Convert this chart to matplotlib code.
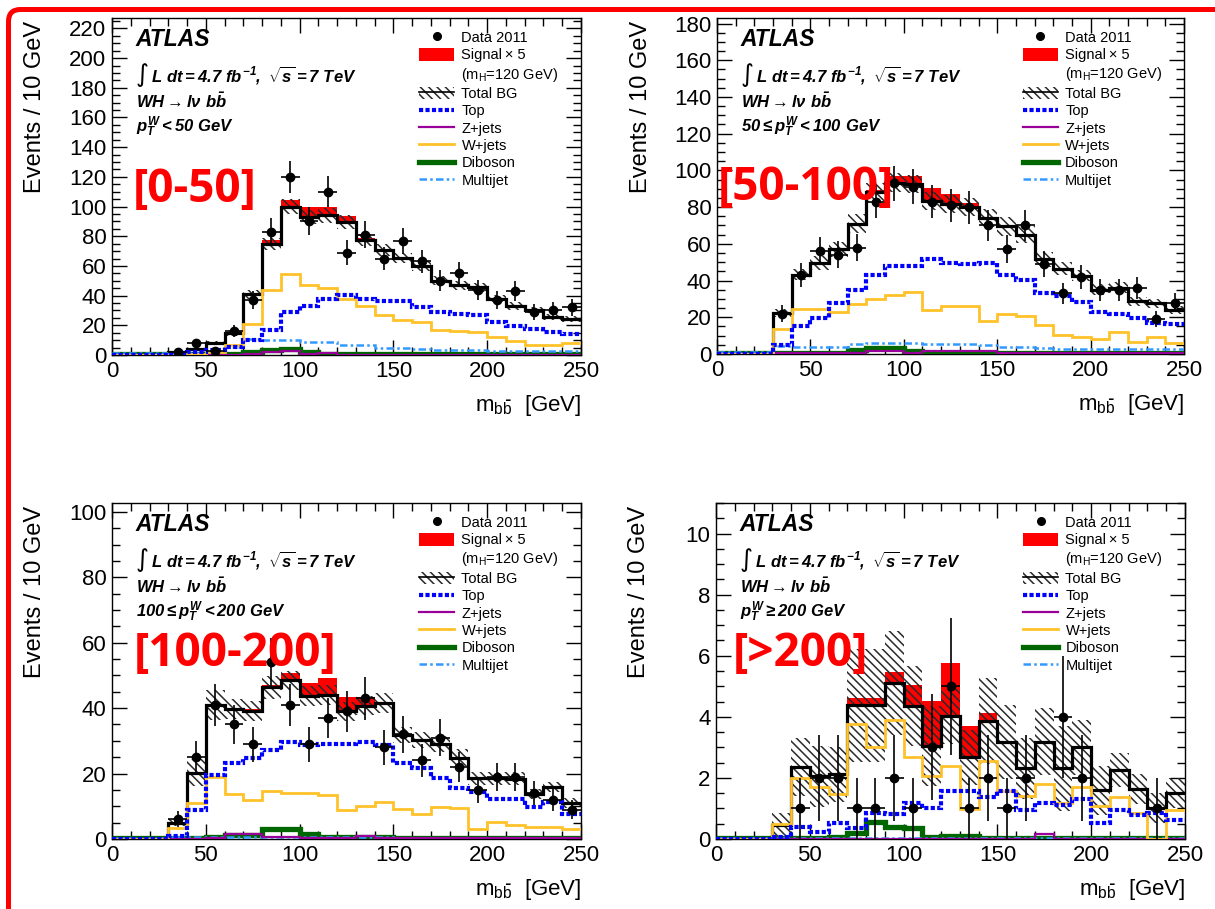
import numpy as np
import matplotlib.pyplot as plt
from matplotlib.lines import Line2D
from matplotlib.patches import Patch, FancyBboxPatch
from matplotlib.ticker import MultipleLocator

plt.rcParams['font.family'] = ['Liberation Sans', 'DejaVu Sans']
plt.rcParams['mathtext.fontset'] = 'custom'
plt.rcParams['mathtext.rm'] = 'Liberation Sans:italic:bold'
plt.rcParams['mathtext.it'] = 'Liberation Sans:italic:bold'
plt.rcParams['mathtext.bf'] = 'Liberation Sans:italic:bold'
plt.rcParams['mathtext.sf'] = 'Liberation Sans'
plt.rcParams['hatch.linewidth'] = 1.1

# m_bb bins, 10 GeV wide from 0 to 250 GeV
edges = np.arange(0, 260, 10)
centers = edges[:-1] + 5

# ---- pT(W) < 50 GeV ----
bg1 = [0.5, 0.5, 0.5, 2, 4, 8, 15, 41, 75, 100, 93, 94, 89.5, 77.5, 71, 65.5, 60, 50, 47, 45.5, 38, 33, 30, 25.5, 24.5]
sig1 = [0, 0, 0, 0, 0, 0, 0, 0.3, 2.5, 4.5, 6.5, 5.5, 4, 1.5, 0.3, 0, 0, 0, 0, 0, 0, 0, 0, 0, 0]
band1 = [0, 0, 0, 0.5, 1, 1.5, 2, 3, 4, 5, 5, 5, 4.5, 4, 4, 3.5, 3.5, 3, 3, 3, 2.5, 2.5, 2, 2, 2]
data1 = [0, 0, 0, 2, 8, 3, 16, 37, 83, 120, 90, 110, 69, 81, 65, 77, 63, 50, 55, 44, 37, 43, 29, 30, 32]
top1 = [0, 0, 0, 1, 2, 3.5, 5.5, 10, 17, 29, 33, 38, 40.5, 38, 36.5, 36.5, 32.5, 29, 27.5, 27, 22, 19.5, 17.5, 15.5, 14]
zjets1 = [0.2, 0.2, 0.2, 0.2, 0.2, 0.2, 0.2, 0.5, 2, 2.5, 0.5, 1.5, 0.3, 0.3, 0.3, 0.3, 0.3, 0.3, 0.3, 0.3, 0.3, 0.3, 0.3, 0.3, 0.3]
wjets1 = [0, 0, 0, 0, 0.5, 2, 7, 21, 43.5, 54.5, 47, 45, 38, 33, 27, 23.5, 22.5, 17, 16, 15.5, 12, 9.5, 7, 6.5, 8]
diboson1 = [0.6, 0.6, 0.6, 0.6, 0.6, 0.6, 0.6, 2, 3.5, 4, 2, 1, 0.6, 0.6, 0.6, 0.6, 0.6, 0.6, 0.6, 0.6, 0.6, 0.6, 0.6, 0.6, 0.6]
multijet1 = [1.5, 1.5, 1.5, 1.5, 1.5, 1.5, 5.5, 10.5, 10, 10, 8.5, 8.5, 7, 6.5, 5, 5, 4, 3.5, 3.5, 3.5, 2.5, 2.5, 2.5, 2.5, 2.5]

# ---- 50 <= pT(W) < 100 GeV ----
bg2 = [0.5, 0.5, 0.5, 22.3, 43.2, 49.6, 57, 71, 88, 93.4, 92.5, 83.4, 81.6, 80, 74, 69.5, 65, 51.5, 46.5, 42.5, 35, 36, 28.6, 27.7, 24]
sig2 = [0, 0, 0, 0, 0, 0, 0, 0, 1.5, 3.3, 4.2, 7, 5.5, 2.5, 0.5, 0, 0, 0, 0, 0, 0, 0, 0, 0, 0]
band2 = [0, 0, 0, 2, 3, 4, 4, 5, 5, 5, 5, 5, 5, 5, 5, 5, 4.5, 4, 3.5, 3, 3, 3, 2.5, 2.5, 2]
data2 = [0, 0, 0, 22, 43, 56, 54, 58, 83, 93, 91, 83, 81, 80, 70, 57, 70, 49, 33, 42, 35, 35, 36, 19, 28]
top2 = [0, 0, 0, 5, 15, 19.5, 28, 35, 43, 48, 48, 51.5, 49.5, 49, 49.5, 43, 40.5, 33, 31.5, 28.5, 23, 22, 19.5, 17, 16.5]
zjets2 = [0.2, 0.2, 0.2, 0.3, 0.3, 0.3, 0.5, 0.8, 1.5, 1.5, 0.8, 1.5, 1.5, 1.5, 1.5, 0.5, 0.5, 0.3, 0.3, 0.3, 0.3, 0.3, 0.3, 0.3, 0.3]
wjets2 = [0, 0, 0, 13.5, 24.5, 24.5, 23, 27, 30, 32, 34, 24, 26, 26, 18, 22, 20.5, 16, 10.5, 9.5, 8, 12, 6.5, 9, 6]
diboson2 = [0.6, 0.6, 0.6, 0.6, 0.6, 0.6, 0.8, 2, 3.5, 3.5, 1.5, 0.8, 0.8, 0.8, 0.8, 0.6, 0.6, 0.6, 0.6, 0.6, 0.6, 0.6, 0.6, 0.6, 0.6]
multijet2 = [1, 1, 1, 4.5, 4, 4, 4, 5.5, 6, 6, 6, 5.5, 5.5, 5.5, 5, 4, 4, 3, 2.5, 2.5, 2.5, 2.5, 2.5, 2.5, 2.5]

# ---- 100 <= pT(W) < 200 GeV ----
bg3 = [0.3, 0.3, 0.3, 5, 20.3, 41, 39.7, 39.2, 46.4, 48.5, 43.8, 44, 39, 40.8, 41.5, 31.8, 30.3, 29, 24.9, 18.6, 18.6, 18.4, 13.8, 15.8, 10.9]
sig3 = [0, 0, 0, 0, 0, 0, 0, 0.5, 0.7, 2.2, 3.9, 5.2, 4.4, 2.6, 0.5, 0, 0, 0, 0, 0, 0, 0, 0, 0, 0]
band3 = [0, 0, 0, 1, 4, 4.5, 3, 3, 3.5, 3, 3, 3, 3, 3, 3, 2.5, 2.5, 2.5, 2.5, 2, 2, 2, 1.5, 1.5, 1.5]
data3 = [0, 0, 0, 6, 25, 41, 35, 29, 54, 41, 29, 37, 39, 43, 28, 32, 24, 31, 22, 15, 19, 19, 14, 12, 9]
top3 = [0, 0, 0, 1, 9, 19.6, 23.2, 24.7, 27.2, 29.8, 28.8, 29, 29, 29.8, 28.8, 23.2, 21.6, 18.6, 15.5, 14.5, 12.2, 12.2, 9.9, 11.2, 7.7]
zjets3 = [0.1, 0.1, 0.1, 0.1, 0.1, 0.3, 1.5, 1.5, 0.5, 0.5, 0.3, 0.3, 0.3, 0.8, 0.3, 0.2, 0.2, 0.2, 0.2, 0.2, 0.2, 0.2, 0.2, 0.2, 0.2]
wjets3 = [0, 0, 0, 3.5, 11, 19, 13.8, 12, 14.8, 14, 14, 13.6, 8.9, 10.1, 11.2, 9.1, 7.7, 9.9, 9.4, 3.1, 5.2, 4.2, 3.6, 3.8, 3]
diboson3 = [0.3, 0.3, 0.3, 0.3, 0.3, 0.5, 1.2, 1.2, 3, 3, 1.5, 0.6, 0.6, 0.6, 0.6, 0.3, 0.3, 0.3, 0.3, 0.3, 0.3, 0.3, 0.3, 0.3, 0.3]
multijet3 = [0.3, 0.3, 0.3, 0.5, 0.5, 0.5, 0.5, 0.5, 0.5, 0.5, 0.5, 0.5, 0.5, 0.5, 0.5, 0.3, 0.3, 0.3, 0.3, 0.3, 0.3, 0.3, 0.3, 0.3, 0.3]

# ---- pT(W) >= 200 GeV ----
bg4 = [0, 0, 0, 0.45, 2.36, 2.06, 2.12, 4.38, 4.38, 5.12, 4.36, 3.04, 4.02, 2.67, 3.87, 3.18, 2.31, 3.18, 2.31, 3.0, 1.59, 2.26, 1.63, 1.01, 1.5]
sig4 = [0, 0, 0, 0, 0, 0, 0, 0.25, 0.25, 0.35, 0.67, 1.47, 1.74, 1.02, 0.26, 0, 0, 0, 0, 0, 0, 0, 0, 0, 0]
band4 = [0, 0, 0, 0.4, 0.95, 1.0, 0.9, 1.85, 1.85, 1.7, 1.3, 1.3, 0.9, 0.9, 1.4, 1.2, 1.0, 1.1, 1.4, 0.9, 0.8, 0.55, 0.5, 0.5, 0.5]
data4 = [0, 0, 0, 0, 1, 2, 2, 1, 1, 2, 1, 3, 5, 1, 2, 1, 2, 0, 4, 2, 0, 0, 0, 1, 0]
top4 = [0, 0, 0, 0.05, 0.38, 0.24, 0.53, 0.35, 0.84, 0.82, 1.19, 1.0, 1.58, 1.58, 1.38, 1.58, 0.95, 1.17, 1.11, 1.3, 0.52, 0.96, 0.79, 0.85, 0.63]
zjets4 = [0, 0, 0, 0, 0, 0, 0, 0, 0, 0, 0, 0, 0, 0, 0, 0, 0, 0.15, 0, 0, 0, 0, 0, 0, 0]
wjets4 = [0, 0, 0, 0.48, 2.0, 1.71, 1.47, 3.76, 3.02, 3.91, 2.69, 2.07, 2.39, 0.97, 2.56, 1.58, 1.41, 1.8, 1.19, 1.71, 1.07, 1.37, 0.85, 0, 0.95]
diboson4 = [0.03, 0.03, 0.03, 0.03, 0.03, 0.03, 0.05, 0.2, 0.55, 0.4, 0.35, 0.05, 0.1, 0.1, 0.03, 0.03, 0.03, 0.03, 0.03, 0.03, 0.03, 0.03, 0.03, 0.03, 0.03]
multijet4 = [0.02] * 25

region_tags = ['[0-50]', '[50-100]', '[100-200]', '[>200]']
region_cuts = [r'$p_T^W < 50\ GeV$',
               r'$50 \leq p_T^W < 100\ GeV$',
               r'$100 \leq p_T^W < 200\ GeV$',
               r'$p_T^W \geq 200\ GeV$']
y_tops = [227, 183, 102.7, 11]
y_steps = [(20, 5), (20, 5), (20, 5), (2, 0.5)]

panels = [
    (bg1, sig1, band1, data1, top1, zjets1, wjets1, diboson1, multijet1),
    (bg2, sig2, band2, data2, top2, zjets2, wjets2, diboson2, multijet2),
    (bg3, sig3, band3, data3, top3, zjets3, wjets3, diboson3, multijet3),
    (bg4, sig4, band4, data4, top4, zjets4, wjets4, diboson4, multijet4),
]

HATCH = '\\\\\\\\'
HATCH_COLOR = '#2a2a2a'
C_TOP, C_Z, C_W, C_VV, C_MJ = '#0000ff', '#990099', '#ffc22a', '#006600', '#3399ff'
LS_TOP = (0, (1.0, 0.55))
LS_MJ = (0, (3, 1.3, 1, 1.3))

# axes boxes in pixels: left, top, right, bottom
W, H = 1215, 909
boxes = [(112, 18, 581, 355), (717, 18, 1184, 354), (112, 503, 581, 839), (716, 503, 1185, 839)]

fig = plt.figure(figsize=(W / 100, H / 100), dpi=100)

legend_handles = [
    Line2D([], [], marker='o', color='k', ls='none', ms=5.5),
    Patch(facecolor='red', edgecolor='none'),
    Line2D([], [], ls='none'),
    (Patch(facecolor='none', edgecolor=HATCH_COLOR, hatch=HATCH, lw=0), Line2D([], [], color='k', lw=1.2)),
    Line2D([], [], color=C_TOP, lw=3, ls=LS_TOP),
    Line2D([], [], color=C_Z, lw=1.6),
    Line2D([], [], color=C_W, lw=2.0),
    Line2D([], [], color=C_VV, lw=3.8),
    Line2D([], [], color=C_MJ, lw=1.8, ls=LS_MJ),
]
legend_labels = ['Data 2011', 'Signal\u2009\u00d7 5', r'(m$_{\mathsf{H}}$=120 GeV)', 'Total BG',
                 'Top', 'Z+jets', 'W+jets', 'Diboson', 'Multijet']

for i, (vals, box) in enumerate(zip(panels, boxes)):
    bg, sig, band, data, top, zj, wj, vv, mj = [np.asarray(v, dtype=float) for v in vals]
    l, t, r, b = box
    ax = fig.add_axes([l / W, 1 - b / H, (r - l) / W, (b - t) / H])

    # signal stacked on the total background, then the uncertainty band
    ax.stairs(bg + sig, edges, baseline=bg, fill=True, color='red', lw=0, zorder=1)
    ax.stairs(bg + band, edges, baseline=bg - band, fill=True, facecolor='none',
              edgecolor=HATCH_COLOR, hatch=HATCH, lw=0, zorder=2)
    ax.stairs(bg, edges, baseline=None, color='k', lw=2.3, zorder=3)

    ax.stairs(vv, edges, baseline=None, color=C_VV, lw=3.8, zorder=4)
    ax.stairs(mj, edges, baseline=None, color=C_MJ, lw=1.8, ls=LS_MJ, zorder=4)
    ax.stairs(zj, edges, baseline=None, color=C_Z, lw=1.6, zorder=5)
    ax.stairs(wj, edges, baseline=None, color=C_W, lw=2.0, zorder=5)
    ax.stairs(top, edges, baseline=None, color=C_TOP, lw=3, ls=LS_TOP, zorder=6)

    m = data > 0
    ax.errorbar(centers[m], data[m], yerr=np.sqrt(data[m]), xerr=5, fmt='o', color='k',
                ms=6, elinewidth=1.2, capsize=0, zorder=10)

    ax.set_xlim(0, 250)
    ax.set_ylim(0, y_tops[i])
    ax.xaxis.set_major_locator(MultipleLocator(50))
    ax.xaxis.set_minor_locator(MultipleLocator(10))
    ax.yaxis.set_major_locator(MultipleLocator(y_steps[i][0]))
    ax.yaxis.set_minor_locator(MultipleLocator(y_steps[i][1]))
    ax.tick_params(which='both', direction='in', top=True, right=True, labelsize=16, pad=4)
    ax.tick_params(which='major', length=11, width=1.0)
    ax.tick_params(which='minor', length=5.5, width=1.0)
    for s in ax.spines.values():
        s.set_linewidth(1.0)

    ax.set_ylabel('Events / 10 GeV', fontsize=17, loc='top')
    ax.yaxis.set_label_coords(-0.14, 0.99)
    ax.set_xlabel(r'm$_{\mathsf{b}\bar{\mathsf{b}}}$  [GeV]', fontsize=16, loc='right')
    ax.xaxis.set_label_coords(1.0, -0.112)

    # ATLAS labels
    ax.text(0.051, 0.935, 'ATLAS', transform=ax.transAxes, fontsize=16.5,
            fontweight='bold', style='italic', va='center')
    ax.text(0.05, 0.83, '\u222b', transform=ax.transAxes, fontsize=18,
            family='DejaVu Sans', va='center')
    ax.text(0.083, 0.831, r'$L\ dt = 4.7\ fb^{-1},\ \sqrt{s} = 7\ TeV$', transform=ax.transAxes,
            fontsize=12, va='center')
    ax.text(0.051, 0.752, r'$WH \rightarrow l\nu\ b\bar{b}$', transform=ax.transAxes,
            fontsize=12, va='center')
    ax.text(0.051, 0.677, region_cuts[i], transform=ax.transAxes, fontsize=12, va='center')

    ax.legend(legend_handles, legend_labels, loc='upper left', bbox_to_anchor=(0.655, 0.962),
              frameon=False, fontsize=10.5, handlelength=2.4, handleheight=0.95,
              handletextpad=0.5, labelspacing=0.21, borderpad=0, borderaxespad=0)

    tag_x = [0.045, 0.002, 0.047, 0.036][i]
    tag_y = [0.49, 0.497, 0.553, 0.553][i]
    ax.text(tag_x, tag_y, region_tags[i], transform=ax.transAxes, fontsize=33,
            family='Open Sans', fontweight='bold', color='red', va='center', zorder=20)

# red frame around the slide
frame = FancyBboxPatch((0.085, -1.0), 13.0, 9.995, boxstyle='round,pad=0,rounding_size=0.12',
                       transform=fig.dpi_scale_trans, facecolor='none', edgecolor='red', lw=3.6)
fig.add_artist(frame)

fig.savefig('out.png', dpi=100)
